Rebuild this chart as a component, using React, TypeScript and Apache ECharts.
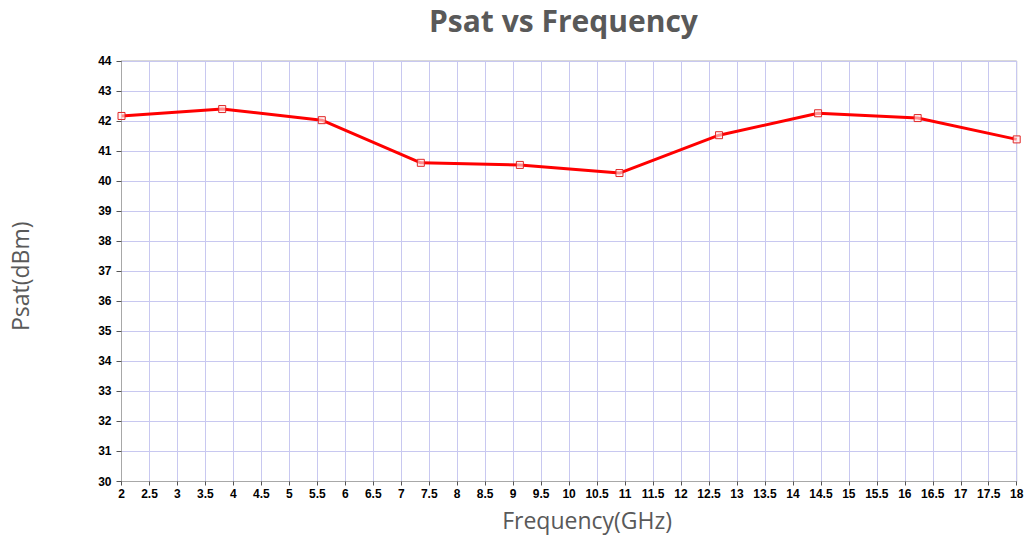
import React, { useEffect, useRef } from "react";
import * as echarts from "echarts";

const freqGHz = [2, 3.8, 5.58, 7.35, 9.12, 10.9, 12.68, 14.45, 16.23, 18];
const psatDbm = [42.17, 42.4, 42.03, 40.61, 40.54, 40.27, 41.53, 42.26, 42.1, 41.39];

const titleText = "Psat vs Frequency";
const xName = "Frequency(GHz)";
const yName = "Psat(dBm)";

export default function App() {
  const ref = useRef<HTMLDivElement>(null);
  useEffect(() => {
    if (!ref.current) return;
    const chart = echarts.init(ref.current, null, { renderer: "svg" });
    const labelFont = {
      fontFamily: "Liberation Sans",
      fontWeight: "bold" as const,
      fontSize: 12,
      color: "#000",
    };
    chart.setOption({
      animation: false,
      backgroundColor: "#fff",
      title: {
        text: titleText,
        left: 424,
        top: 0,
        textStyle: {
          fontFamily: "Open Sans",
          fontWeight: "bold",
          fontSize: 30,
          color: "#595959",
        },
      },
      grid: {
        left: 121.5,
        right: 14.3,
        top: 61,
        bottom: 55.5,
        show: true,
        borderColor: "#b0b0b0",
        borderWidth: 1,
        backgroundColor: "transparent",
      },
      xAxis: {
        type: "value",
        min: 2,
        max: 18,
        interval: 0.5,
        name: xName,
        nameLocation: "middle",
        nameGap: 27,
        nameTextStyle: {
          fontFamily: "Open Sans",
          fontSize: 23,
          color: "#595959",
          padding: [0, 0, 0, 36],
        },
        axisLine: { show: true, lineStyle: { color: "#a8a8a8", width: 1 } },
        axisTick: { show: true, length: 4, lineStyle: { color: "#555" } },
        axisLabel: { ...labelFont, margin: 6, showMinLabel: true, showMaxLabel: true },
        splitLine: { show: true, lineStyle: { color: "#c8c8f0", width: 1 } },
      },
      yAxis: {
        type: "value",
        min: 30,
        max: 44,
        interval: 1,
        name: yName,
        nameLocation: "middle",
        nameGap: 90,
        nameTextStyle: {
          fontFamily: "Open Sans",
          fontSize: 23,
          color: "#595959",
          padding: [0, 10, 0, 0],
        },
        axisLine: { show: true, lineStyle: { color: "#a8a8a8", width: 1 } },
        axisTick: { show: true, length: 5, lineStyle: { color: "#555" } },
        axisLabel: { ...labelFont, margin: 10 },
        splitLine: { show: true, lineStyle: { color: "#c8c8f0", width: 1 } },
      },
      series: [
        {
          type: "line",
          data: freqGHz.map((f, i) => [f, psatDbm[i]]),
          symbol: "rect",
          symbolSize: 7,
          showAllSymbol: true,
          clip: false,
          lineStyle: { color: "#ff0000", width: 3 },
          itemStyle: {
            color: "rgba(255,235,235,0.6)",
            borderColor: "#e02828",
            borderWidth: 1,
          },
        },
      ],
    });
    return () => chart.dispose();
  }, []);
  return (
    <div
      ref={ref}
      style={{ position: "fixed", left: 0, top: 0, width: 1031, height: 537, background: "#fff" }}
    />
  );
}
